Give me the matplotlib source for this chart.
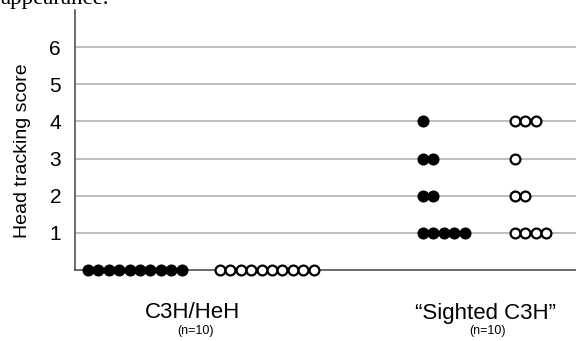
import numpy as np
import matplotlib
matplotlib.use("Agg")
import matplotlib.pyplot as plt
from matplotlib.transforms import blended_transform_factory

plt.rcParams['font.family'] = ['Liberation Sans', 'DejaVu Sans']

# counts of animals per score (0..4) for each group / marker style
scores = [0, 1, 2, 3, 4]
heh_filled = [10, 0, 0, 0, 0]
heh_open = [10, 0, 0, 0, 0]
sighted_filled = [0, 5, 2, 2, 1]
sighted_open = [0, 4, 2, 1, 3]

groups = ["C3H/HeH", "\u201cSighted C3H\u201d"]
group_n = ["(n=10)", "(n=10)"]
yticks = [1, 2, 3, 4, 5, 6]

fig = plt.figure(figsize=(5.76, 3.41), dpi=100)
ax = fig.add_axes([75 / 576, 1 - 270 / 341, 1 - 75 / 576, 260 / 341])

step = 10.4  # horizontal spacing between dots

def dots(counts, x0, filled):
    xs, ys = [], []
    for s, c in zip(scores, counts):
        for i in range(c):
            xs.append(x0 + i * step)
            ys.append(s)
    ax.scatter(xs, ys, s=50, marker='o',
               facecolor='black' if filled else 'white',
               edgecolor='black', linewidth=1.6, zorder=5, clip_on=False)

dots(heh_filled, 13, True)
dots(heh_open, 145, False)
dots(sighted_filled, 348, True)
dots(sighted_open, 440, False)

ax.set_xlim(0, 501)
ax.set_ylim(0, 7)
ax.set_yticks(yticks)
ax.set_yticklabels([str(t) for t in yticks], fontsize=15)
ax.set_xticks([])
ax.tick_params(axis='y', length=0, pad=10)
for t in yticks:
    ax.axhline(t, color='#aaaaaa', lw=1.1, zorder=1)
for side in ['top', 'right']:
    ax.spines[side].set_visible(False)
for side in ['left', 'bottom']:
    ax.spines[side].set_color('#444444')
    ax.spines[side].set_linewidth(1.1)
ax.set_ylabel("Head tracking score", fontsize=14)
ax.yaxis.set_label_coords(-44 / 501, 0.46)

# group labels
tr = blended_transform_factory(ax.transData, fig.transFigure)
centers = [118, 411]
for cx, g, n in zip(centers, groups, group_n):
    ax.text(cx, 1 - 313 / 341, g, transform=tr,
            ha='center', va='center', fontsize=16)
    ax.text(cx + 2, 1 - 331 / 341, n, transform=tr,
            ha='center', va='center', fontsize=9)

# clipped text from the page above the chart
fig.text(0.0, 1 - 4 / 341, "appearance.", family='Liberation Serif',
         fontsize=16.5, va='baseline', ha='left')

fig.savefig("out.png", dpi=100)
